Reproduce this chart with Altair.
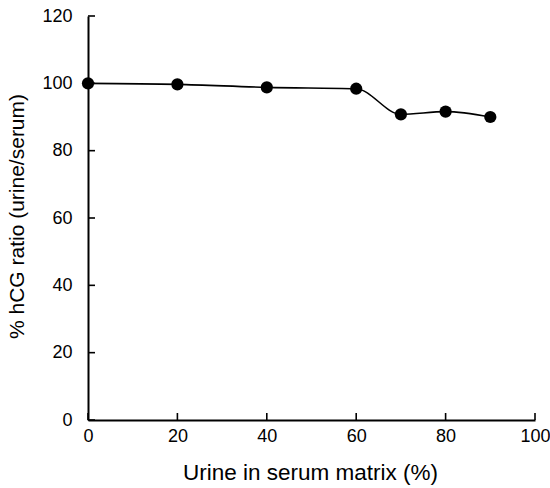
import altair as alt
import pandas as pd

x_vals = [0, 20, 40, 60, 70, 80, 90]
y_vals = [100, 99.7, 98.8, 98.4, 90.8, 91.6, 90.0]
x_ticks = [0, 20, 40, 60, 80, 100]
y_ticks = [0, 20, 40, 60, 80, 100, 120]

df = pd.DataFrame({"x": x_vals, "y": y_vals})
xt = pd.DataFrame({"t": x_ticks})
yt = pd.DataFrame({"t": y_ticks})

W, H = 447, 404
FONT = "Liberation Sans"

xscale = alt.Scale(domain=[0, 100], nice=False)
yscale = alt.Scale(domain=[0, 120], nice=False)

xaxis = alt.Axis(values=x_ticks, title="Urine in serum matrix (%)", grid=False,
                 tickSize=0, labelPadding=7, labelFontSize=18, labelColor="black",
                 labelFlush=False, labelOverlap=False,
                 titleFontSize=22.5, titleFontWeight="normal", titleColor="black",
                 titleX=222, titleY=52, titleAlign="center", titleBaseline="middle",
                 domainColor="black", domainWidth=2,
                 labelFont=FONT, titleFont=FONT)
yaxis = alt.Axis(values=y_ticks, title="% hCG ratio (urine/serum)", grid=False,
                 tickSize=0, labelPadding=16, labelFontSize=18, labelColor="black",
                 labelFlush=False, labelOverlap=False,
                 titleFontSize=21, titleFontWeight="normal", titleColor="black",
                 titleX=-71, titleY=200, titleAngle=-90, titleAlign="center",
                 titleBaseline="middle",
                 domainColor="black", domainWidth=2, labelFont=FONT, titleFont=FONT)

line = alt.Chart(df).mark_line(color="black", strokeWidth=1.6, interpolate="monotone").encode(
    x=alt.X("x:Q", scale=xscale, axis=xaxis),
    y=alt.Y("y:Q", scale=yscale, axis=yaxis),
)
pts = alt.Chart(df).mark_circle(color="black", opacity=1, size=150).encode(
    x=alt.X("x:Q", scale=xscale),
    y=alt.Y("y:Q", scale=yscale),
)
xtk = alt.Chart(xt).mark_rule(color="black", strokeWidth=1.6).encode(
    x=alt.X("t:Q", scale=xscale),
    y=alt.value(H - 7),
    y2=alt.value(H),
)
ytk = alt.Chart(yt).mark_rule(color="black", strokeWidth=1.6).encode(
    y=alt.Y("t:Q", scale=yscale),
    x=alt.value(0),
    x2=alt.value(7),
)

chart = alt.layer(xtk, ytk, line, pts).properties(
    width=W, height=H,
    autosize=alt.AutoSizeParams(type="none"),
    padding={"left": 88, "top": 16, "right": 15, "bottom": 68},
    background="white",
).configure_view(stroke=None)

chart.save("out.html", embed_options={"renderer": "svg", "actions": False})
